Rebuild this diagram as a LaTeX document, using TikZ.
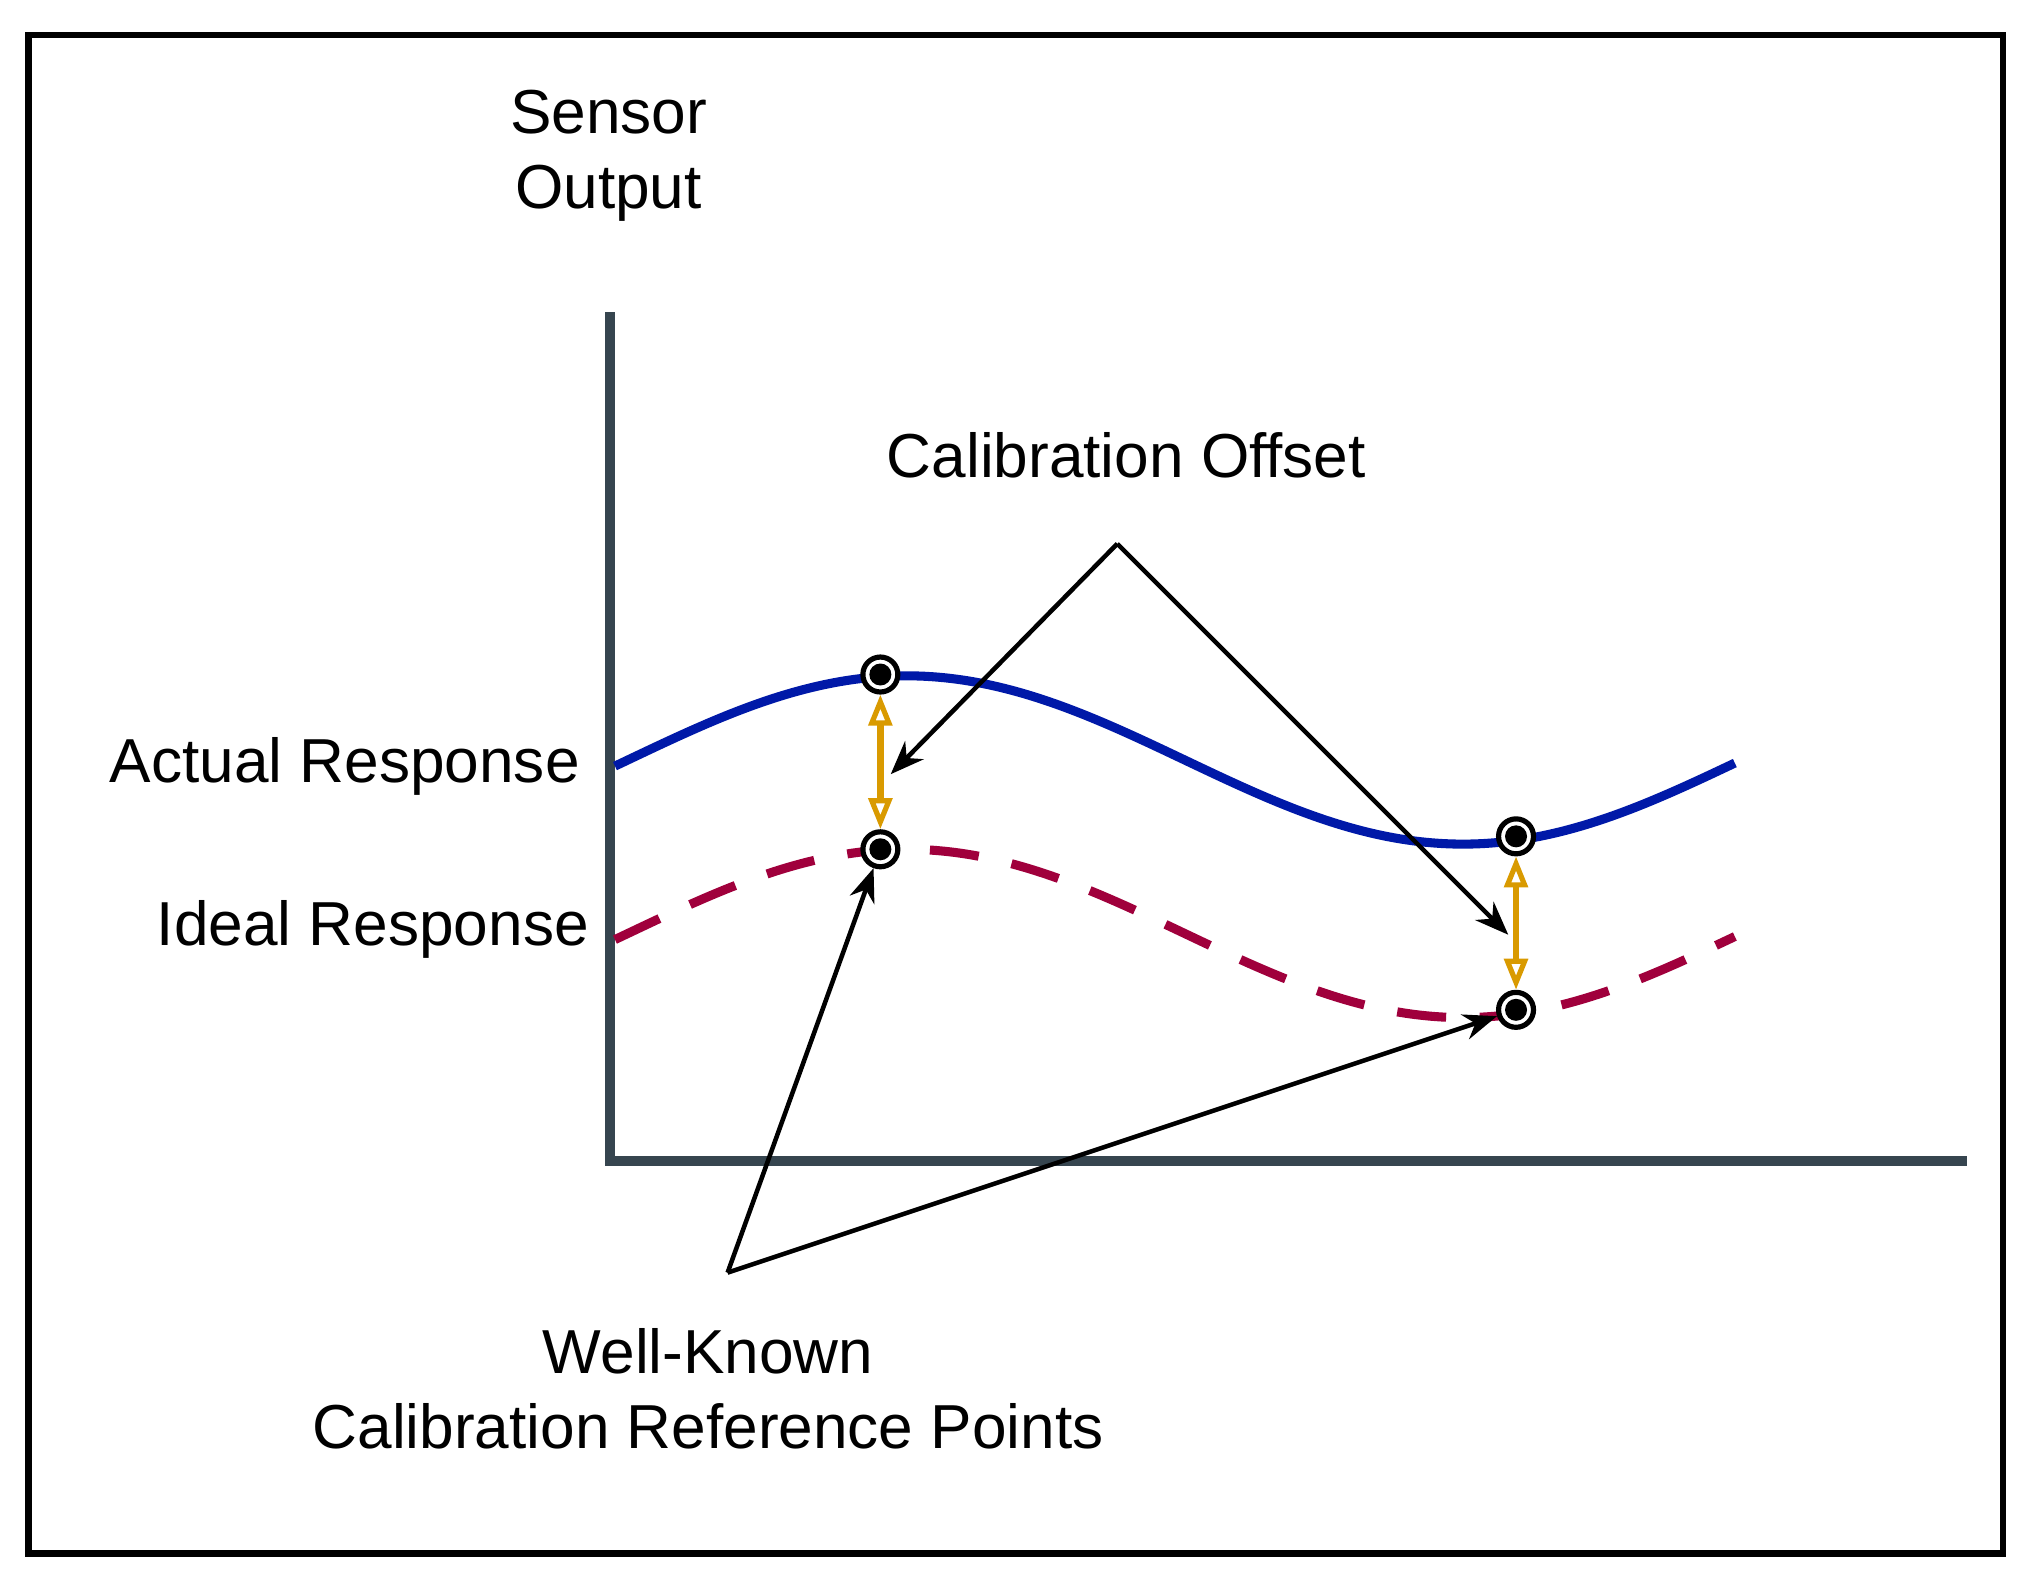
\documentclass[tikz,border=0pt]{standalone}
\usepackage{fontspec}
\setmainfont{Liberation Sans}
\usetikzlibrary{arrows.meta}
\definecolor{axc}{HTML}{36454F}
\definecolor{blu}{HTML}{0019A8}
\definecolor{mar}{HTML}{A0003C}
\definecolor{org}{HTML}{D99A00}
\begin{document}
\begin{tikzpicture}[x=1pt,y=-1pt,
 lbl/.style={font=\fontsize{48}{58}\selectfont,inner sep=0pt,align=center},
 mk/.style={circle,draw=black,line width=4pt,fill=white,minimum size=27pt,inner sep=0pt,
   path picture={\fill[black] (path picture bounding box.center) circle (8.5pt);}},
 ptr/.style={black,line width=3.5pt,-{Stealth[length=26pt,width=20pt]}},
 off/.style={org,line width=5pt,{Triangle[open,length=24pt,width=18pt,line width=4pt]}-{Triangle[open,length=24pt,width=18pt,line width=4pt]}}]
\useasboundingbox (0,0) rectangle (1568,1225);
\draw[line width=5pt] (22,27) rectangle (1547,1200);
\draw[axc,line width=8pt,line cap=rect] (471,245) -- (471,897) -- (1515,897);
\draw[blu,line width=7pt] plot[domain=475:1340,samples=120,smooth] (\x,{587-65*cos((\x-700)/430*180)});
\draw[mar,line width=7pt,dash pattern=on 38pt off 26pt] plot[domain=475:1340,samples=120,smooth] (\x,{721-65*cos((\x-700)/430*180)});
\node[mk] (p1) at (680,521) {};
\node[mk] (p2) at (680,656) {};
\node[mk] (p3) at (1171,646) {};
\node[mk] (p4) at (1171,780) {};
\draw[off] (p1) -- (p2);
\draw[off] (p3) -- (p4);
\coordinate (co) at (863,420);
\coordinate (wk) at (562,983);
\coordinate (t1) at (688,598);
\coordinate (t2) at (1165,722);
\draw[ptr] (co) -- (t1);
\draw[ptr] (co) -- (t2);
\draw[ptr] (wk) -- (p2);
\draw[ptr] (wk) -- (p4);
\node[lbl] (so) at (470,120) {Sensor\\Output};
\node[lbl] (cal) at (870,352) {Calibration Offset};
\node[lbl,anchor=east] (ar) at (448,592) {Actual Response};
\node[lbl,anchor=east] (ir) at (455,718) {Ideal Response};
\node[lbl] (wl) at (547,1073) {Well-Known\\Calibration Reference Points};
\end{tikzpicture}
\end{document}
